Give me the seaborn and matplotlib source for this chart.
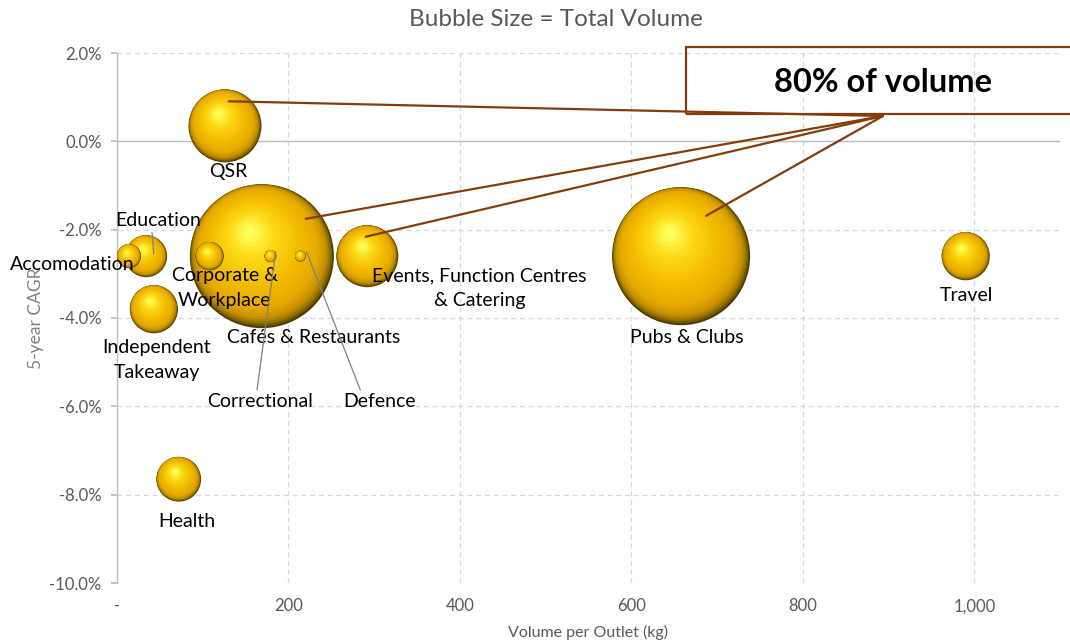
import numpy as np
import pandas as pd
import seaborn as sns
import matplotlib
matplotlib.use("Agg")
import matplotlib.pyplot as plt
from matplotlib.path import Path
from matplotlib.colors import LinearSegmentedColormap
from matplotlib.patches import Rectangle
from matplotlib import transforms

# ---------------- data ----------------
segments = ["Cafés & Restaurants", "Pubs & Clubs", "QSR", "Events, Function Centres\n& Catering",
            "Independent\nTakeaway", "Travel", "Health", "Education", "Corporate &\nWorkplace",
            "Accomodation", "Correctional", "Defence"]
volume_per_outlet = [169, 658, 126, 292, 43, 990, 72, 34, 108, 14, 179, 214]
cagr_5yr = [-2.6, -2.6, 0.35, -2.6, -3.8, -2.6, -7.65, -2.6, -2.6, -2.6, -2.6, -2.6]
total_volume = [5180, 4760, 1330, 960, 580, 580, 500, 440, 200, 145, 36, 30]
callout_segments = ["Cafés & Restaurants", "Pubs & Clubs", "QSR", "Events, Function Centres\n& Catering"]
x_ticks = [0, 200, 400, 600, 800, 1000]
y_ticks = [-10, -8, -6, -4, -2, 0, 2]

df = pd.DataFrame({"segment": segments, "x": volume_per_outlet,
                   "y": cagr_5yr, "vol": total_volume})

# ---------------- style ----------------
sns.set_theme(style="white")
plt.rcParams["font.family"] = ["Lato", "DejaVu Sans"]
GRAY = "#595959"

fig = plt.figure(figsize=(10.7, 6.43), dpi=100)
ax = fig.add_axes([117 / 1070, 1 - 583 / 643, 943 / 1070, 530 / 643])

# ---------------- bubbles (sphere shading via nested offset markers) ----------------
cmap = LinearSegmentedColormap.from_list(
    "gold", [(0.0, "#4f3c00"), (0.06, "#8a6a00"), (0.15, "#c48f00"), (0.3, "#e6aa00"),
             (0.55, "#f2bc00"), (0.8, "#fcd815"), (1.0, "#ffff5a")])
SMAX = 10750.0
vmax = max(total_volume)
n_layers = 26
d = np.array([-0.45, 0.9])
d = d / np.linalg.norm(d)
layers = []
for t in np.linspace(0, 1, n_layers):
    a = 0.38 * t
    r = 1 - a - 0.55 * t ** 2
    cx, cy = a * d
    circ = Path.circle((cx, cy), r)
    verts = np.vstack([circ.vertices, [[1.0, 1.0]]])
    codes = np.concatenate([circ.codes, [Path.MOVETO]])
    layers.append((Path(verts, codes), cmap(t)))

order = df.sort_values("vol", ascending=False).index
for i in order:
    row = df.loc[[i]]
    for mpath, col in layers:
        sns.scatterplot(data=row, x="x", y="y", size="vol", sizes=(0, SMAX),
                        size_norm=(0, vmax), marker=mpath, color=col,
                        linewidth=0, edgecolor="none", legend=False, ax=ax, zorder=3)

# ---------------- axes ----------------
ax.set_xlim(0, 1100)
ax.set_ylim(-10, 2)
ax.set_xticks(x_ticks)
ax.set_xticklabels(["-" if v == 0 else f"{v:,}" for v in x_ticks])
ax.set_yticks(y_ticks)
ax.set_yticklabels([f"{v:.1f}%" for v in y_ticks])
ax.tick_params(axis="x", length=0, pad=11, labelsize=12, labelcolor=GRAY)
ax.tick_params(axis="y", length=4, color="#bfbfbf", pad=7, labelsize=12, labelcolor=GRAY, left=True)
ax.grid(True, color="#d9d9d9", linestyle=(0, (4, 3)), linewidth=0.9, zorder=0)
ax.set_axisbelow(True)
for s in ["top", "right", "bottom"]:
    ax.spines[s].set_visible(False)
ax.spines["left"].set_color("#bfbfbf")
ax.spines["left"].set_linewidth(1.0)
ax.axhline(0, color="#bfbfbf", linewidth=1.0, zorder=1)
ax.set_xlabel("Volume per Outlet (kg)", fontsize=11.5, color=GRAY, labelpad=8)
ax.set_ylabel("5-year CAGR", fontsize=12.5, color="#808080", labelpad=4)

fig.text(556 / 1070, 1 - 19 / 643, "Bubble Size = Total Volume", ha="center", va="center",
         fontsize=17.5, color=GRAY)

# ---------------- data labels ----------------
label_offsets = {  # points, relative to bubble centre
    "QSR": (2, -32.7),
    "Education": (9, 25.5),
    "Accomodation": (-41, -6.2),
    "Corporate &\nWorkplace": (11, -22.8),
    "Cafés & Restaurants": (37.4, -58.8),
    "Correctional": (-7.7, -104.8),
    "Defence": (57.1, -104.8),
    "Events, Function Centres\n& Catering": (80.9, -22.8),
    "Independent\nTakeaway": (2.2, -36.6),
    "Health": (5.9, -30.5),
    "Pubs & Clubs": (4.4, -58.8),
    "Travel": (0.8, -28.5),
}
leaders = {  # end offset in points from bubble centre, relpos on label
    "Education": ((5.5, 1.5), (0.42, 0.0)),
    "Correctional": ((3.8, 3.3), (0.47, 1.0)),
    "Defence": ((4.3, 3.3), (0.25, 1.0)),
}
for _, r in df.iterrows():
    name = r["segment"]
    dx, dy = label_offsets[name]
    if name in leaders:
        (ex, ey), relpos = leaders[name]
        tr = transforms.offset_copy(ax.transData, fig=fig, x=ex, y=ey, units="points")
        ax.annotate(name, xy=(r["x"], r["y"]), xycoords=tr,
                    xytext=(dx - ex, dy - ey), textcoords="offset points",
                    ha="center", va="center", fontsize=14, color="black",
                    linespacing=1.56, zorder=5,
                    arrowprops=dict(arrowstyle="-", color="#7f7f7f", lw=0.9,
                                    shrinkA=0, shrinkB=0, relpos=relpos))
    else:
        ax.annotate(name, xy=(r["x"], r["y"]), xytext=(dx, dy), textcoords="offset points",
                    ha="center", va="center", fontsize=14, color="black",
                    linespacing=1.56, zorder=5)

# ---------------- callout ----------------
BROWN = "#843C0C"
apex = ((883 - 117) / 943, (583 - 116) / 530)
callout_ends = {
    "QSR": (2.7, 17.7),
    "Cafés & Restaurants": (31.6, 26.9),
    "Events, Function Centres\n& Catering": (-1.2, 14.0),
    "Pubs & Clubs": (18.1, 29.1),
}
for name in callout_segments:
    r = df[df["segment"] == name].iloc[0]
    ex, ey = callout_ends[name]
    tr = transforms.offset_copy(ax.transData, fig=fig, x=ex, y=ey, units="points")
    ax.annotate("", xy=(r["x"], r["y"]), xycoords=tr, xytext=apex, textcoords="axes fraction",
                arrowprops=dict(arrowstyle="-", color=BROWN, lw=1.6, shrinkA=0, shrinkB=0),
                zorder=6, annotation_clip=False)

fig.patches.append(Rectangle((686 / 1070, 1 - 114 / 643), (1080 - 686) / 1070, (114 - 47) / 643,
                             transform=fig.transFigure, fill=False, edgecolor=BROWN,
                             linewidth=1.6, zorder=10))
fig.text(883 / 1070, 1 - 82 / 643, "80% of volume", ha="center", va="center",
         fontsize=23.5, fontweight="bold", color="black")

fig.savefig("out.png", dpi=100)
